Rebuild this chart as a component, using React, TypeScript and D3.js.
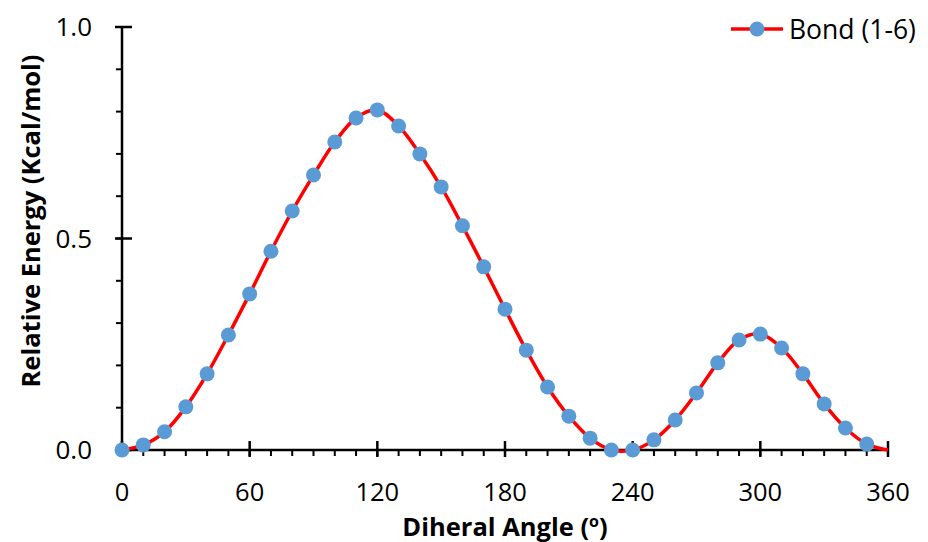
import React from "react";
import * as d3 from "d3";

const angles = [0,10,20,30,40,50,60,70,80,90,100,110,120,130,140,150,160,170,180,190,200,210,220,230,240,250,260,270,280,290,300,310,320,330,340,350,360];
const energies = [0,0.012,0.043,0.102,0.18,0.272,0.369,0.47,0.565,0.65,0.728,0.785,0.804,0.766,0.70,0.622,0.53,0.433,0.333,0.236,0.149,0.080,0.028,0,0,0.024,0.071,0.135,0.206,0.26,0.274,0.241,0.18,0.109,0.052,0.014,0];
const xMajorTicks = [0,60,120,180,240,300,360];
const xMinorTicks = d3.range(0, 361, 10);
const yMajorTicks = [0, 0.5, 1.0];
const yMinorTicks = d3.range(0, 1.0001, 0.1);
const seriesName = "Bond (1-6)";

const W = 928, H = 542;
const FONT = "'Open Sans', Lato, 'Liberation Sans', sans-serif";

export default function App() {
  const x = d3.scaleLinear().domain([0, 360]).range([122, 888]);
  const y = d3.scaleLinear().domain([0, 1]).range([450, 27]);
  const line = d3.line<number>()
    .x((_, i) => x(angles[i]))
    .y((d) => y(d))
    .curve(d3.curveCatmullRom.alpha(0.5));
  const pathD = line(energies) || "";
  const markers = energies.slice(0, 36);

  return (
    <svg width={W} height={H} style={{ position: "absolute", left: 0, top: 0 }} fontFamily={FONT}>
      <rect width={W} height={H} fill="#fff" />
      {/* y axis */}
      <line x1={x(0)} x2={x(0)} y1={y(0)} y2={y(1)} stroke="#000" strokeWidth={2.5} />
      {yMinorTicks.map((t, i) => (
        <line key={"ym" + i} x1={x(0) - 6} x2={x(0)} y1={y(t)} y2={y(t)} stroke="#000" strokeWidth={2} />
      ))}
      {yMajorTicks.map((t) => (
        <g key={"yM" + t}>
          <line x1={x(0) - 7} x2={x(0) + 10} y1={y(t)} y2={y(t)} stroke="#000" strokeWidth={2.5} />
          <text x={92} y={y(t)} dy="0.36em" textAnchor="end" fontSize={26} fill="#000">{t.toFixed(1)}</text>
        </g>
      ))}
      {/* x axis */}
      <line x1={x(0)} x2={x(360)} y1={y(0)} y2={y(0)} stroke="#000" strokeWidth={2.5} />
      {xMinorTicks.map((t) => (
        <line key={"xm" + t} x1={x(t)} x2={x(t)} y1={y(0)} y2={y(0) + 6} stroke="#000" strokeWidth={2} />
      ))}
      {xMajorTicks.map((t) => (
        <g key={"xM" + t}>
          <line x1={x(t)} x2={x(t)} y1={y(0) - 9} y2={y(0) + 7} stroke="#000" strokeWidth={2.5} />
          <text x={x(t)} y={501} textAnchor="middle" fontSize={25.5} fill="#000">{t}</text>
        </g>
      ))}
      {/* series */}
      <path d={pathD} fill="none" stroke="#FF0000" strokeWidth={3.5} />
      {markers.map((v, i) => (
        <circle key={"m" + i} cx={x(angles[i])} cy={y(v)} r={7.5} fill="#5B9BD5" />
      ))}
      {/* axis titles */}
      <text x={505} y={536} textAnchor="middle" fontSize={25.5} fontWeight="bold" fill="#000">
        Diheral Angle (<tspan fontSize={16} dy={-9}>o</tspan><tspan dy={9}>)</tspan>
      </text>
      <text transform={`translate(40, 221) rotate(-90)`} textAnchor="middle" fontSize={25.5} fontWeight="bold" fill="#000">
        Relative Energy (Kcal/mol)
      </text>
      {/* legend */}
      <line x1={731} x2={783} y1={29} y2={29} stroke="#FF0000" strokeWidth={3.5} />
      <circle cx={757} cy={29} r={7.5} fill="#5B9BD5" />
      <text x={789} y={29} dy="0.36em" fontSize={26.5} fill="#000">{seriesName}</text>
    </svg>
  );
}
